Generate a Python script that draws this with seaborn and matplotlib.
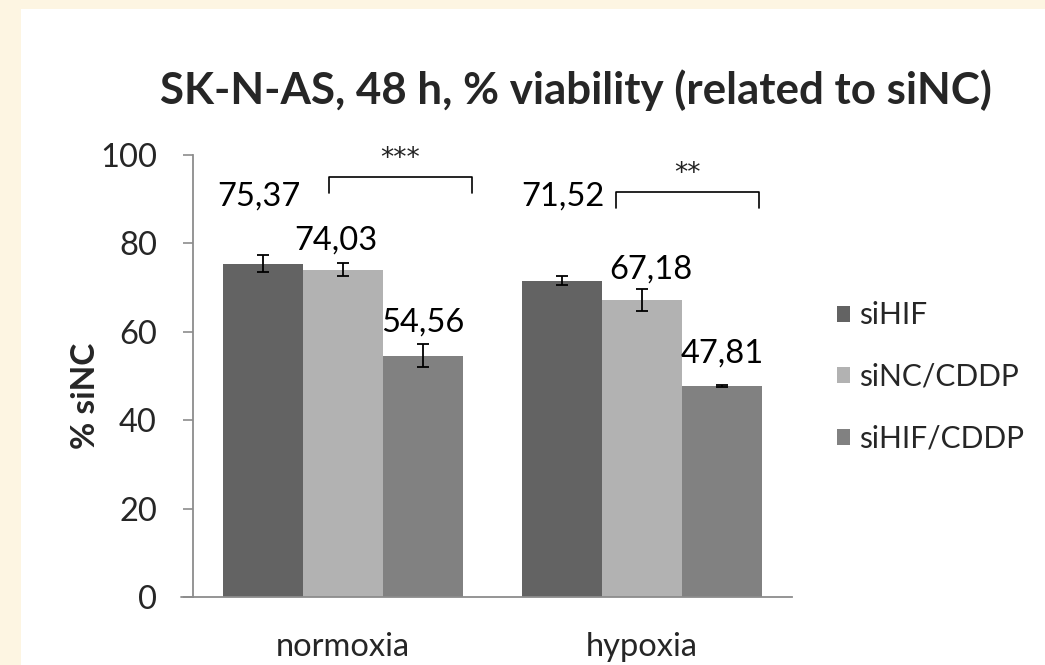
import numpy as np
import pandas as pd
import matplotlib
matplotlib.use("Agg")
import matplotlib.pyplot as plt
import seaborn as sns
from matplotlib.patches import Rectangle

conditions = ["normoxia", "hypoxia"]
groups = ["siHIF", "siNC/CDDP", "siHIF/CDDP"]
values_normoxia = [75.37, 74.03, 54.56]
values_hypoxia = [71.52, 67.18, 47.81]
err_normoxia = [1.9, 1.5, 2.6]
err_hypoxia = [1.0, 2.4, 0.2]
value_labels_normoxia = ["75,37", "74,03", "54,56"]
value_labels_hypoxia = ["71,52", "67,18", "47,81"]
yticks = [0, 20, 40, 60, 80, 100]
colors = ["#636363", "#B2B2B2", "#818181"]

rows = []
for c, vals, errs, labs in [("normoxia", values_normoxia, err_normoxia, value_labels_normoxia),
                            ("hypoxia", values_hypoxia, err_hypoxia, value_labels_hypoxia)]:
    for g, v, e, l in zip(groups, vals, errs, labs):
        rows.append(dict(condition=c, group=g, value=v, err=e, label=l))
df = pd.DataFrame(rows)

sns.set_theme(style="white")
plt.rcParams["font.family"] = ["Lato", "DejaVu Sans"]

FS = 23.5

fig = plt.figure(figsize=(10.45, 6.65), dpi=100)
fig.patch.set_facecolor("#FDF5E2")
bg = Rectangle((21 / 1045, 0), 1, 1 - 9 / 665, transform=fig.transFigure,
               facecolor="white", edgecolor="none", zorder=-10)
fig.add_artist(bg)

ax = fig.add_axes([193 / 1045, 1 - 597 / 665, (792 - 193) / 1045, (597 - 155) / 665])
ax.set_facecolor("none")
sns.barplot(data=df, x="condition", y="value", hue="group", order=conditions,
            hue_order=groups, palette=colors, width=0.8, errorbar=None, ax=ax,
            saturation=1, edgecolor="none", legend=True)

label_offsets = {
    ("normoxia", "siHIF"): (-0.013, 90.5),
    ("normoxia", "siNC/CDDP"): (-0.023, 80.7),
    ("normoxia", "siHIF/CDDP"): (0.0, 62.0),
    ("hypoxia", "siHIF"): (0.0, 90.5),
    ("hypoxia", "siNC/CDDP"): (0.03, 74.2),
    ("hypoxia", "siHIF/CDDP"): (0.0, 55.0),
}
for gi, g in enumerate(groups):
    cont = ax.containers[gi]
    for ci, c in enumerate(conditions):
        bar = cont[ci]
        xc = bar.get_x() + bar.get_width() / 2
        row = df[(df.condition == c) & (df.group == g)].iloc[0]
        ax.errorbar(xc, row.value, yerr=row.err, fmt="none", ecolor="black",
                    elinewidth=1.3, capsize=4.3, capthick=1.3, zorder=5)
        dx, ly = label_offsets[(c, g)]
        ax.text(xc + dx, ly, row.label, ha="center", va="center", fontsize=FS, color="black")

def bracket(x1, x2, y, h, text):
    ax.plot([x1, x1, x2, x2], [y - h, y, y, y - h], color="black", lw=1.2, clip_on=False)
    ax.text((x1 + x2) / 2, y + 4.2, text, ha="center", va="center", fontsize=19,
            color="#222222", family="DejaVu Sans")

bracket(-0.047, 0.433, 95.0, 3.6, "***")
bracket(0.913, 1.390, 91.6, 3.6, "**")

ax.set_ylim(0, 100)
ax.set_xlim(-0.5, 1.5)
ax.set_yticks(yticks)
ax.set_yticklabels([str(t) for t in yticks], fontsize=FS)
ax.tick_params(axis="y", length=7, width=1.2, color="#8C8C8C", pad=19, left=True)
ax.tick_params(axis="x", length=0, labelsize=FS, pad=25)
for s in ["top", "right"]:
    ax.spines[s].set_visible(False)
for s in ["left", "bottom"]:
    ax.spines[s].set_color("#8C8C8C")
    ax.spines[s].set_linewidth(1.3)
ax.set_xlabel("")
ax.set_ylabel("% siNC", fontsize=24, fontweight="bold")
ax.yaxis.set_label_coords(-0.155, 0.455)

ax.plot([-0.5 - 12 / 300, -0.5], [0, 0], color="#8C8C8C", lw=1.3, clip_on=False)

leg = ax.legend(loc="center left", bbox_to_anchor=(1.03, 0.498), frameon=False,
                fontsize=21.5, handlelength=0.45, handleheight=0.45, handletextpad=0.3,
                labelspacing=1.12)

fig.text(576 / 1045, 1 - 90 / 665, "SK-N-AS, 48 h, % viability (related to siNC)",
         ha="center", va="center", fontsize=31.6, fontweight="bold")

fig.savefig("out.png", dpi=100, facecolor=fig.get_facecolor())
